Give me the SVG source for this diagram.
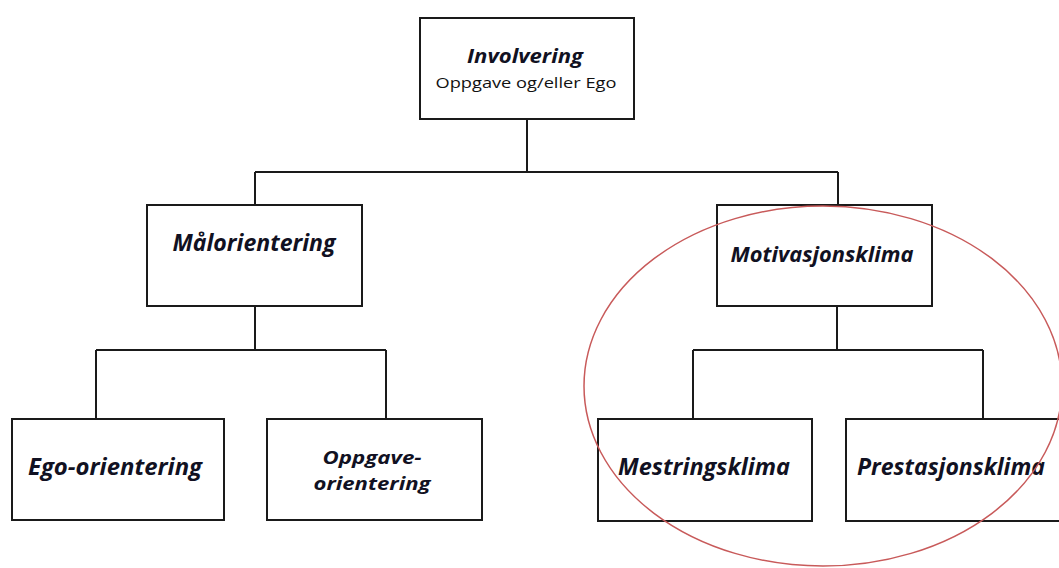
<svg xmlns="http://www.w3.org/2000/svg" width="1059" height="568" viewBox="0 0 1059 568">
  <style>
    .box { fill: #ffffff; stroke: #1a1a1a; stroke-width: 2; }
    .wire { fill: none; stroke: #1a1a1a; stroke-width: 2; }
    .lbl { font-family: "Open Sans", "Liberation Sans", sans-serif; font-weight: bold; font-style: italic; fill: #111122; text-anchor: middle; }
    .sub { font-family: "Open Sans", "Liberation Sans", sans-serif; fill: #111111; text-anchor: middle; }
    .ring { fill: none; stroke: #c85a5a; stroke-width: 1.5; }
  </style>

  <!-- tree connectors -->
  <g id="connectors">
    <path class="wire" d="M527 119 V172 M255 172 H838 M255 172 V205 M838 172 V205"/>
    <path class="wire" d="M255 306 V350 M96 350 H386 M96 350 V419 M386 350 V419"/>
    <path class="wire" d="M837 306 V350 M693 350 H983 M693 350 V419 M983 350 V419"/>
  </g>

  <g id="involvering">
    <rect class="box" x="420" y="18" width="214" height="101"/>
    <text class="lbl" x="525" y="63" font-size="19" textLength="116" lengthAdjust="spacingAndGlyphs">Involvering</text>
    <text class="sub" x="526" y="88" font-size="14" textLength="181" lengthAdjust="spacingAndGlyphs">Oppgave  og/eller  Ego</text>
  </g>

  <g id="malorientering">
    <rect class="box" x="147" y="205" width="215" height="101"/>
    <text class="lbl" x="254" y="251" font-size="24" textLength="163" lengthAdjust="spacingAndGlyphs">Målorientering</text>
  </g>

  <g id="motivasjonsklima">
    <rect class="box" x="717" y="205" width="215" height="101"/>
    <text class="lbl" x="822" y="262" font-size="22" textLength="183" lengthAdjust="spacingAndGlyphs">Motivasjonsklima</text>
  </g>

  <g id="ego-orientering">
    <rect class="box" x="12" y="419" width="212" height="101"/>
    <text class="lbl" x="115" y="475" font-size="24" textLength="174" lengthAdjust="spacingAndGlyphs">Ego-orientering</text>
  </g>

  <g id="oppgave-orientering">
    <rect class="box" x="267" y="419" width="215" height="101"/>
    <text class="lbl" x="372" y="464" font-size="18" textLength="99" lengthAdjust="spacingAndGlyphs">Oppgave-</text>
    <text class="lbl" x="372" y="490" font-size="18" textLength="117" lengthAdjust="spacingAndGlyphs">orientering</text>
  </g>

  <g id="mestringsklima">
    <rect class="box" x="598" y="419" width="214" height="102"/>
    <text class="lbl" x="704" y="475" font-size="24" textLength="172" lengthAdjust="spacingAndGlyphs">Mestringsklima</text>
  </g>

  <g id="prestasjonsklima">
    <rect class="box" x="846" y="419" width="216" height="102"/>
    <text class="lbl" x="951" y="475" font-size="24" textLength="188" lengthAdjust="spacingAndGlyphs">Prestasjonsklima</text>
  </g>

  <!-- highlight around the climate branch -->
  <ellipse class="ring" cx="823" cy="386" rx="239" ry="180"/>
</svg>
